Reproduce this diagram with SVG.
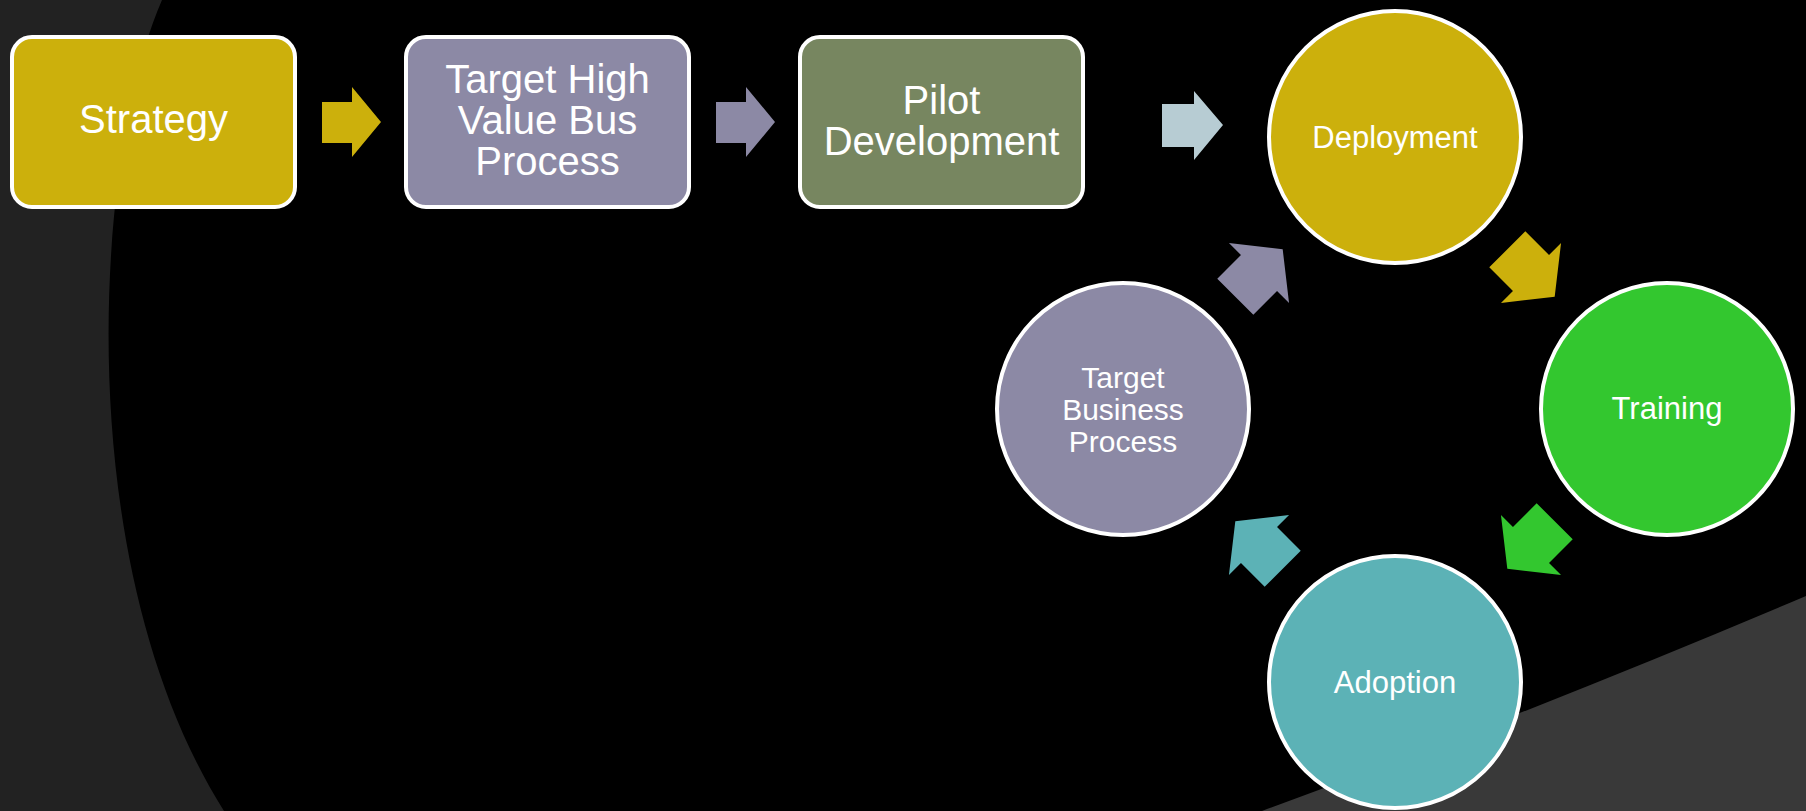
<svg xmlns="http://www.w3.org/2000/svg" xmlns:xlink="http://www.w3.org/1999/xlink" width="1806" height="811" viewBox="0 0 1806 811">
<style>
.box{stroke:#ffffff;stroke-width:4}
.circ{stroke:#ffffff;stroke-width:4}
.lbl{font-family:"Liberation Sans",Arial,sans-serif;fill:#ffffff;text-anchor:middle}
.big{font-size:40px}
.small{font-size:31px}
.tiny{font-size:30px}
</style>
<defs>
<polygon id="carr" points="-33.5,-25.5 0,-25.5 0,-42.5 33.5,0 0,42.5 0,25.5 -33.5,25.5"/>
</defs>
<g id="background">
<rect x="0" y="0" width="1806" height="811" fill="#000000"/>
<path d="M0,0 L162,0 C96,150 66,560 224,811 L0,811 Z" fill="#222222"/>
<path d="M1806,596 Q1540,709 1262,811 L1806,811 Z" fill="#393939"/>
</g>
<g id="connectors">
<polygon points="322,102 352,102 352,87 381,122 352,157 352,143 322,143" fill="#CCB00C"/>
<polygon points="716,102 746,102 746,87 775,122 746,157 746,143 716,143" fill="#8C89A5"/>
<polygon points="1162,104 1194,104 1194,91 1223,125 1194,160 1194,147 1162,147" fill="#B7CCD3"/>
<use xlink:href="#carr" href="#carr" transform="translate(1531,273) rotate(45)" fill="#CCB00C"/>
<use xlink:href="#carr" href="#carr" transform="translate(1531,545) rotate(135)" fill="#33C72F"/>
<use xlink:href="#carr" href="#carr" transform="translate(1259,545) rotate(225)" fill="#5CB2B6"/>
<use xlink:href="#carr" href="#carr" transform="translate(1259,273) rotate(315)" fill="#8C89A5"/>
</g>
<g id="node-strategy">
<rect class="box" x="12" y="37" width="283" height="170" rx="20" fill="#CCB00C"/>
<text class="lbl big" x="153.5" y="133">Strategy</text>
</g>
<g id="node-target-high-value">
<rect class="box" x="406" y="37" width="283" height="170" rx="20" fill="#8C89A5"/>
<text class="lbl big" x="547.5" y="93">Target High</text>
<text class="lbl big" x="547.5" y="134">Value Bus</text>
<text class="lbl big" x="547.5" y="175">Process</text>
</g>
<g id="node-pilot">
<rect class="box" x="800" y="37" width="283" height="170" rx="20" fill="#778660"/>
<text class="lbl big" x="941.5" y="114">Pilot</text>
<text class="lbl big" x="941.5" y="155">Development</text>
</g>
<g id="node-deployment">
<circle class="circ" cx="1395" cy="137" r="126" fill="#CCB00C"/>
<text class="lbl small" x="1395" y="148">Deployment</text>
</g>
<g id="node-training">
<circle class="circ" cx="1667" cy="409" r="126" fill="#33C72F"/>
<text class="lbl small" x="1667" y="419">Training</text>
</g>
<g id="node-adoption">
<circle class="circ" cx="1395" cy="682" r="126" fill="#5CB2B6"/>
<text class="lbl small" x="1395" y="693">Adoption</text>
</g>
<g id="node-target-business">
<circle class="circ" cx="1123" cy="409" r="126" fill="#8C89A5"/>
<text class="lbl tiny" x="1123" y="388">Target</text>
<text class="lbl tiny" x="1123" y="420">Business</text>
<text class="lbl tiny" x="1123" y="452">Process</text>
</g>
</svg>
